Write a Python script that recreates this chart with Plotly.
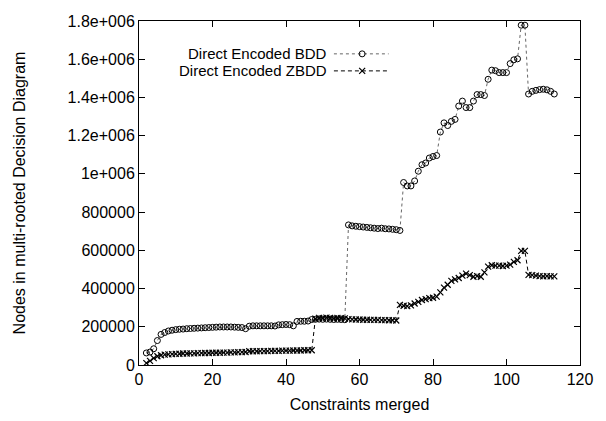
import plotly.graph_objects as go

# ---- data ----
bdd_x = list(range(2, 114))
bdd_y = [
    63000, 68000, 85000, 128000, 160000, 170000, 178000, 182000, 185000, 187000,   # 2-11
    188000, 190000, 191000, 192000, 193000, 194000, 195000, 196000, 197000, 198000,  # 12-21
    199000, 199000, 199000, 199000, 198000, 197000, 196000, 190000, 203000, 205000,  # 22-31
    205000, 205000, 205000, 205000, 205000, 204000, 210000, 211000, 212000, 211000,  # 32-41
    205000, 228000, 229000, 229000, 230000, 238000, 239000, 240000, 239000, 240000,  # 42-51
    239000, 238000, 239000, 238000, 237000, 733000, 728000, 726000, 724000, 722000,  # 52-61
    720000, 718000, 716000, 714000, 716000, 713000, 712000, 710000, 708000, 704000,  # 62-71
    955000, 937000, 937000, 963000, 1014000, 1048000, 1057000, 1083000, 1091000, 1096000,  # 72-81
    1219000, 1267000, 1253000, 1275000, 1285000, 1355000, 1381000, 1347000, 1347000, 1381000,  # 82-91
    1415000, 1415000, 1410000, 1495000, 1543000, 1540000, 1530000, 1530000, 1530000, 1577000,  # 92-101
    1597000, 1602000, 1778000, 1778000, 1418000, 1432000, 1437000, 1441000, 1443000, 1440000,  # 102-111
    1432000, 1418000,  # 112-113
]

zbdd_x = list(range(2, 114))
zbdd_y = [
    10000, 22000, 36000, 46000, 51000, 54000, 56000, 57000, 58000, 59000,   # 2-11
    60000, 60000, 61000, 61000, 62000, 62000, 63000, 63000, 64000, 64000,   # 12-21
    64000, 65000, 65000, 66000, 66000, 67000, 67000, 68000, 72000, 72000,   # 22-31
    72000, 73000, 73000, 73000, 74000, 74000, 74000, 75000, 75000, 75000,   # 32-41
    76000, 76000, 76000, 77000, 77000, 77000, 243000, 247000, 245000, 248000,  # 42-51
    246000, 244000, 246000, 245000, 244000, 240000, 239000, 238000, 238000, 237000,  # 52-61
    237000, 236000, 236000, 236000, 235000, 235000, 234000, 234000, 233000, 315000,  # 62-71
    310000, 308000, 312000, 322000, 330000, 340000, 345000, 350000, 352000, 358000,  # 72-81
    380000, 405000, 420000, 440000, 448000, 455000, 468000, 478000, 470000, 462000,  # 82-91
    465000, 462000, 485000, 515000, 522000, 520000, 520000, 518000, 520000, 525000,  # 92-101
    540000, 548000, 597000, 597000, 472000, 470000, 468000, 465000, 464000, 465000,  # 102-111
    464000, 464000,  # 112-113
]

x_ticks = [0, 20, 40, 60, 80, 100, 120]
y_ticks = [0, 200000, 400000, 600000, 800000, 1000000, 1200000, 1400000, 1600000, 1800000]
y_tick_labels = ["0", "200000", "400000", "600000", "800000", "1e+006",
                 "1.2e+006", "1.4e+006", "1.6e+006", "1.8e+006"]
series_names = ["Direct Encoded BDD", "Direct Encoded ZBDD"]

FONT = "Liberation Sans, Arial, Helvetica, sans-serif"
FS = 16
KEY_FS = 15

fig = go.Figure()

bdd_line = dict(color="#666666", width=1, dash="dot")
bdd_marker = dict(symbol="circle-open", size=6, color="black", line=dict(width=1, color="black"))
zbdd_line = dict(color="black", width=1, dash="4px,3px")
zbdd_marker = dict(symbol="x-thin-open", size=6, color="black", line=dict(width=1.2, color="black"))

fig.add_trace(go.Scatter(x=bdd_x, y=bdd_y, mode="lines+markers", name=series_names[0],
                         line=bdd_line, marker=bdd_marker, showlegend=False))
fig.add_trace(go.Scatter(x=zbdd_x, y=zbdd_y, mode="lines+markers", name=series_names[1],
                         line=zbdd_line, marker=zbdd_marker, showlegend=False))

# legend keys drawn in a hidden 0..1 overlay axis pair (gnuplot-style key: text left, sample right)
key_x = [0.442, 0.506, 0.566]
key_rows = [0.9045, 0.855]
fig.add_trace(go.Scatter(x=key_x, y=[key_rows[0]] * 3, xaxis="x2", yaxis="y2", mode="lines",
                         line=bdd_line, showlegend=False, hoverinfo="skip"))
fig.add_trace(go.Scatter(x=[key_x[1]], y=[key_rows[0]], xaxis="x2", yaxis="y2", mode="markers",
                         marker=bdd_marker, showlegend=False, hoverinfo="skip"))
fig.add_trace(go.Scatter(x=key_x, y=[key_rows[1]] * 3, xaxis="x2", yaxis="y2", mode="lines",
                         line=zbdd_line, showlegend=False, hoverinfo="skip"))
fig.add_trace(go.Scatter(x=[key_x[1]], y=[key_rows[1]], xaxis="x2", yaxis="y2", mode="markers",
                         marker=zbdd_marker, showlegend=False, hoverinfo="skip"))

for name, yy in zip(series_names, key_rows):
    fig.add_annotation(x=0.4286, y=yy, xref="paper", yref="paper", text=name, showarrow=False,
                       xanchor="right", yanchor="middle", borderpad=0,
                       font=dict(family=FONT, size=KEY_FS, color="black"))

axis_common = dict(showgrid=False, zeroline=False, showline=True, linecolor="black", linewidth=1,
                   mirror="allticks", ticks="inside", ticklen=6, tickcolor="black", tickwidth=1,
                   ticklabeloverflow="allow",
                   tickfont=dict(family=FONT, size=FS, color="black"))

# page body has an 8px margin, so margins/size are reduced to keep the plot area at the reference spot
fig.update_layout(
    width=598, height=413,
    margin=dict(l=131, r=26, t=5, b=56),
    paper_bgcolor="white", plot_bgcolor="white",
    font=dict(family=FONT, size=FS, color="black"),
    xaxis=dict(range=[0, 120], tickvals=x_ticks, ticktext=[str(v) for v in x_ticks],
               title=dict(text="Constraints merged", font=dict(family=FONT, size=FS), standoff=11),
               **axis_common),
    yaxis=dict(range=[0, 1800000], tickvals=y_ticks, ticktext=y_tick_labels,
               title=dict(text="Nodes in multi-rooted Decision Diagram", font=dict(family=FONT, size=FS), standoff=38),
               **axis_common),
    xaxis2=dict(range=[0, 1], overlaying="x", visible=False, anchor="y2"),
    yaxis2=dict(range=[0, 1], overlaying="y", visible=False, anchor="x2"),
    showlegend=False,
)

fig.write_html("out.html")
